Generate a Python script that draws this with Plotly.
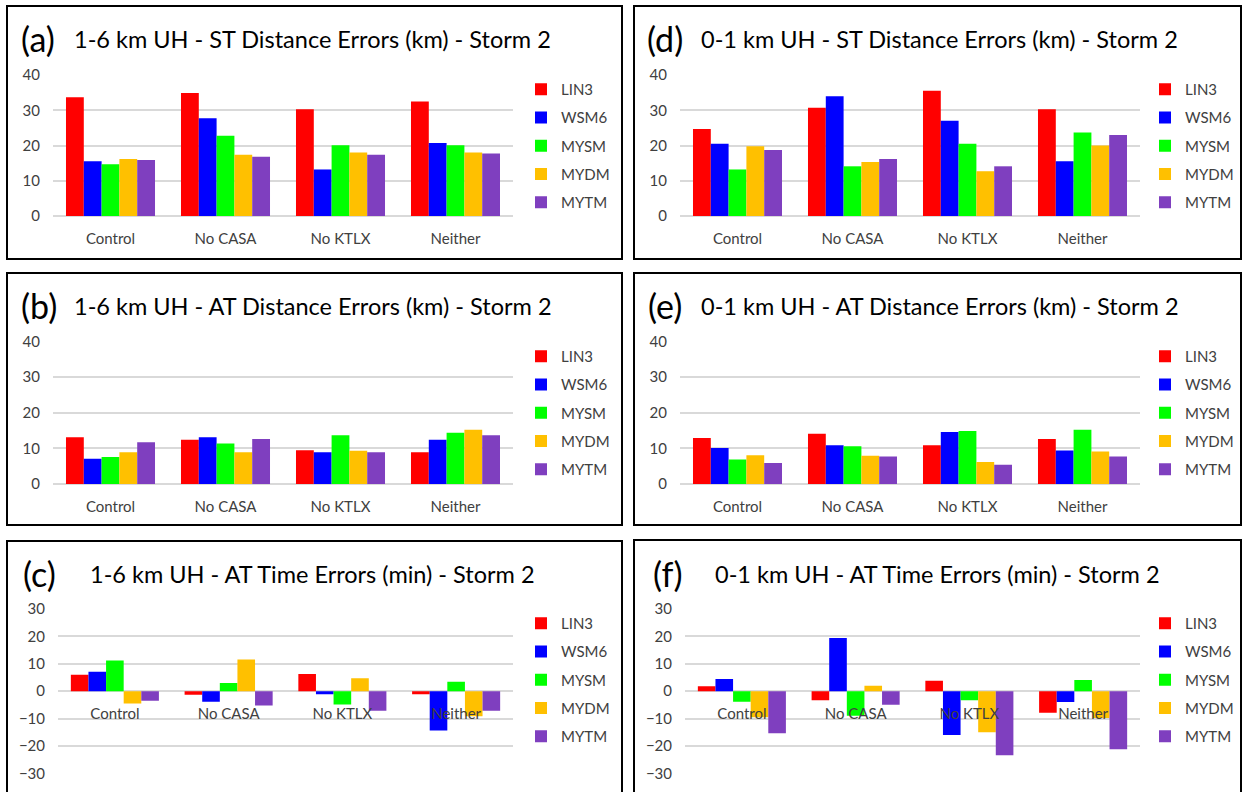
import plotly.graph_objects as go

# ---------------- data ----------------
categories = ["Control", "No CASA", "No KTLX", "Neither"]
series_names = ["LIN3", "WSM6", "MYSM", "MYDM", "MYTM"]

# (a) 1-6 km UH - ST Distance Errors (km)
a_lin3 = [33.7, 34.9, 30.3, 32.5]
a_wsm6 = [15.5, 27.7, 13.2, 20.7]
a_mysm = [14.7, 22.8, 20.1, 20.1]
a_mydm = [16.2, 17.4, 18.0, 18.0]
a_mytm = [15.9, 16.8, 17.4, 17.7]

# (b) 1-6 km UH - AT Distance Errors (km)
b_lin3 = [13.1, 12.4, 9.5, 8.9]
b_wsm6 = [7.1, 13.1, 8.9, 12.4]
b_mysm = [7.6, 11.4, 13.7, 14.4]
b_mydm = [8.9, 8.9, 9.3, 15.2]
b_mytm = [11.7, 12.6, 8.9, 13.7]

# (c) 1-6 km UH - AT Time Errors (min)
c_lin3 = [6.0, -1.3, 6.3, -1.1]
c_wsm6 = [7.1, -3.9, -1.1, -14.4]
c_mysm = [11.2, 3.0, -4.9, 3.4]
c_mydm = [-4.5, 11.6, 4.7, -9.2]
c_mytm = [-3.5, -5.2, -7.2, -7.2]

# (d) 0-1 km UH - ST Distance Errors (km)
d_lin3 = [24.7, 30.7, 35.5, 30.3]
d_wsm6 = [20.5, 34.0, 27.0, 15.5]
d_mysm = [13.2, 14.1, 20.5, 23.7]
d_mydm = [19.8, 15.3, 12.7, 20.0]
d_mytm = [18.7, 16.2, 14.1, 23.0]

# (e) 0-1 km UH - AT Distance Errors (km)
e_lin3 = [12.9, 14.1, 10.9, 12.6]
e_wsm6 = [10.1, 10.9, 14.6, 9.4]
e_mysm = [6.9, 10.6, 14.9, 15.2]
e_mydm = [8.1, 7.9, 6.2, 9.1]
e_mytm = [5.9, 7.7, 5.4, 7.7]

# (f) 0-1 km UH - AT Time Errors (min)
f_lin3 = [1.8, -3.3, 3.8, -7.9]
f_wsm6 = [4.4, 19.4, -16.0, -4.0]
f_mysm = [-3.9, -9.0, -3.3, 4.1]
f_mydm = [-9.5, 2.0, -15.0, -9.8]
f_mytm = [-15.4, -5.0, -23.4, -21.2]

dist_ticks = [0, 10, 20, 30, 40]
time_ticks = [-30, -20, -10, 0, 10, 20, 30]

# ---------------- styling / layout ----------------
W, H = 1246, 792
FONT = "Lato"
TICK_COLOR = "#404040"
GRID = "#D9D9D9"
colors = ["#FF0000", "#0000FF", "#00FF00", "#FFC000", "#7F3FBF"]


def px(x):
    return x / W


def py(y):
    return 1 - y / H


panels = [
    dict(key="a", label="(a)", title="1-6 km UH - ST Distance Errors (km) - Storm 2",
         vals=[a_lin3, a_wsm6, a_mysm, a_mydm, a_mytm], ticks=dist_ticks, rng=[0, 40],
         xd=(53, 513), yd=(216, 75), box=(7, 6, 622, 259),
         lab_x=19, tit_x=72, tit_y=38, leg_x=521, leg_y=73),
    dict(key="b", label="(b)", title="1-6 km UH - AT Distance Errors (km) - Storm 2",
         vals=[b_lin3, b_wsm6, b_mysm, b_mydm, b_mytm], ticks=dist_ticks, rng=[0, 40],
         xd=(53, 513), yd=(484, 341.5), box=(7, 273, 622, 525),
         lab_x=19, tit_x=72, tit_y=305, leg_x=521, leg_y=340),
    dict(key="c", label="(c)", title="1-6 km UH - AT Time Errors (min) - Storm 2",
         vals=[c_lin3, c_wsm6, c_mysm, c_mydm, c_mytm], ticks=time_ticks, rng=[-30, 30],
         xd=(58, 513), yd=(773.3, 609), box=(7, 541, 622, 800),
         lab_x=21, tit_x=88, tit_y=573, leg_x=521, leg_y=607),
    dict(key="d", label="(d)", title="0-1 km UH - ST Distance Errors (km) - Storm 2",
         vals=[d_lin3, d_wsm6, d_mysm, d_mydm, d_mytm], ticks=dist_ticks, rng=[0, 40],
         xd=(680, 1140), yd=(216, 75), box=(634, 6, 1241, 259),
         lab_x=645, tit_x=699, tit_y=38, leg_x=1145, leg_y=73),
    dict(key="e", label="(e)", title="0-1 km UH - AT Distance Errors (km) - Storm 2",
         vals=[e_lin3, e_wsm6, e_mysm, e_mydm, e_mytm], ticks=dist_ticks, rng=[0, 40],
         xd=(680, 1140), yd=(484, 341.5), box=(634, 273, 1241, 525),
         lab_x=646, tit_x=699, tit_y=305, leg_x=1145, leg_y=340),
    dict(key="f", label="(f)", title="0-1 km UH - AT Time Errors (min) - Storm 2",
         vals=[f_lin3, f_wsm6, f_mysm, f_mydm, f_mytm], ticks=time_ticks, rng=[-30, 30],
         xd=(685, 1140), yd=(773.3, 609), box=(634, 540, 1241, 800),
         lab_x=651, tit_x=713, tit_y=573, leg_x=1145, leg_y=607),
]

fig = go.Figure()
layout = dict(
    width=W, height=H, autosize=False,
    margin=dict(l=0, r=0, t=0, b=0, pad=0, autoexpand=False),
    paper_bgcolor="white", plot_bgcolor="white",
    barmode="group", bargap=0.226, bargroupgap=0,
    font=dict(family=FONT, color=TICK_COLOR, size=15),
    showlegend=True,
)
shapes = []
annotations = []

for i, p in enumerate(panels):
    n = i + 1
    xa = "x" if n == 1 else f"x{n}"
    ya = "y" if n == 1 else f"y{n}"
    xkey = "xaxis" if n == 1 else f"xaxis{n}"
    ykey = "yaxis" if n == 1 else f"yaxis{n}"
    lkey = "legend" if n == 1 else f"legend{n}"

    for s, name in enumerate(series_names):
        fig.add_trace(go.Bar(
            x=categories, y=p["vals"][s], name=name,
            marker=dict(color=colors[s], line=dict(width=0)),
            xaxis=xa, yaxis=ya, legend=lkey,
            legendgroup=f"{p['key']}-{name}",
        ))

    y0, y1 = py(p["yd"][0]), py(p["yd"][1])
    is_time = p["rng"][0] < 0
    xaxis = dict(
        domain=[px(p["xd"][0]), px(p["xd"][1])],
        type="category", categoryorder="array", categoryarray=categories,
        showgrid=False, zeroline=False, showline=False, automargin=False,
        ticks="", ticklabelstandoff=12,
        tickfont=dict(family=FONT, size=15, color=TICK_COLOR),
        fixedrange=True,
    )
    if is_time:
        xaxis.update(anchor="free", position=(y0 + y1) / 2)
    else:
        xaxis.update(anchor=ya)
    layout[xkey] = xaxis
    layout[ykey] = dict(
        domain=[y0, y1], anchor=xa, range=p["rng"], automargin=False,
        tickvals=p["ticks"], showgrid=True, gridcolor=GRID, gridwidth=1.5,
        zeroline=True, zerolinecolor=GRID, zerolinewidth=1.5,
        showline=False, ticks="", ticklabelstandoff=12,
        tickfont=dict(family=FONT, size=15, color=TICK_COLOR),
        fixedrange=True,
    )
    layout[lkey] = dict(
        x=px(p["leg_x"]), y=py(p["leg_y"]), xanchor="left", yanchor="top",
        bgcolor="rgba(0,0,0,0)", borderwidth=0,
        font=dict(family=FONT, size=15, color=TICK_COLOR),
        tracegroupgap=5.75, traceorder="grouped",
    )
    bx0, by0, bx1, by1 = p["box"]
    shapes.append(dict(type="rect", xref="paper", yref="paper",
                       x0=px(bx0), x1=px(bx1), y0=py(by1), y1=py(by0),
                       line=dict(color="black", width=2), fillcolor="rgba(0,0,0,0)",
                       layer="above"))
    annotations.append(dict(xref="paper", yref="paper", x=px(p["lab_x"]), y=py(p["tit_y"]),
                            xanchor="left", yanchor="middle", showarrow=False,
                            text=p["label"], font=dict(family=FONT, size=34, color="black")))
    annotations.append(dict(xref="paper", yref="paper", x=px(p["tit_x"]), y=py(p["tit_y"] + 1),
                            xanchor="left", yanchor="middle", showarrow=False,
                            text=p["title"], font=dict(family=FONT, size=23.5, color="black")))

layout["shapes"] = shapes
layout["annotations"] = annotations
fig.update_layout(**layout)
fig.write_html("out.html", config={"displayModeBar": False},
               post_script="document.body.style.margin='0px';")
